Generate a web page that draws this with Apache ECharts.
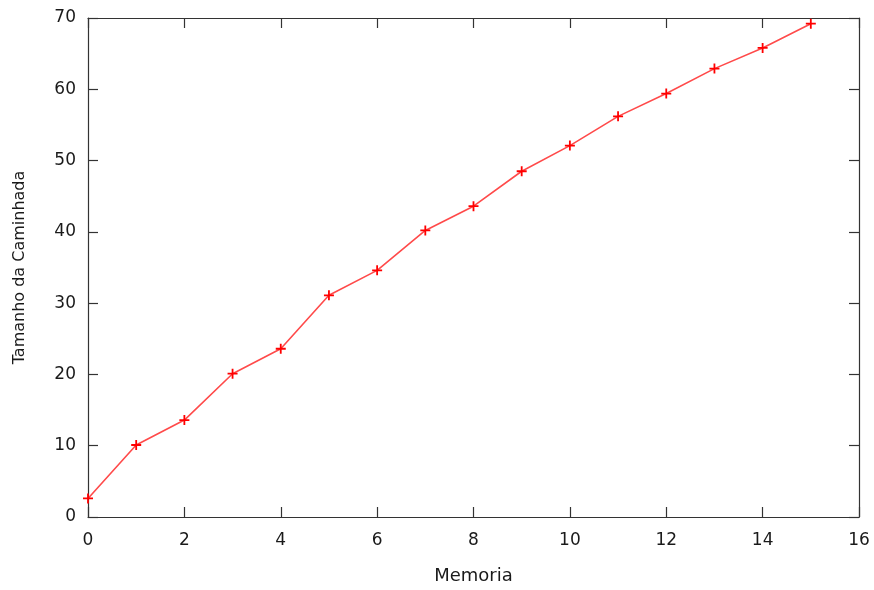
<!DOCTYPE html>
<html>
<head>
<meta charset="utf-8">
<script src="https://cdn.jsdelivr.net/npm/echarts@6/dist/echarts.min.js"></script>
<style>
  html, body { margin: 0; padding: 0; background: #fff; }
  #chart { width: 874px; height: 590px; }
</style>
</head>
<body>
<div id="chart"></div>
<script>
// Walk length as a function of memory size
const memoria = [0, 1, 2, 3, 4, 5, 6, 7, 8, 9, 10, 11, 12, 13, 14, 15];
const tamanho = [2.6, 10.1, 13.6, 20.1, 23.6, 31.1, 34.6, 40.2, 43.6, 48.5, 52.1, 56.2, 59.4, 62.9, 65.8, 69.2];
const xTicks = { min: 0, max: 16, interval: 2 };
const yTicks = { min: 0, max: 70, interval: 10 };

const font = 'DejaVu Sans';
const ink = '#1a1a1a';
const plus = 'path://M4.1,0H5.9V4.1H10V5.9H5.9V10H4.1V5.9H0V4.1H4.1Z';

// Frame on all four sides, ticks pointing into the plot
const frameLine = { show: true, onZero: false, lineStyle: { color: '#333', width: 1.2 } };
const inTicks = { show: true, inside: true, length: 10, lineStyle: { color: '#333', width: 1.2 } };

const chart = echarts.init(document.getElementById('chart'));
chart.setOption({
  animation: false,
  backgroundColor: '#fff',
  grid: { left: 88, right: 15, top: 18, bottom: 71, containLabel: false },
  xAxis: [
    {
      type: 'value', position: 'bottom',
      min: xTicks.min, max: xTicks.max, interval: xTicks.interval,
      name: 'Memoria', nameLocation: 'middle', nameGap: 50,
      nameTextStyle: { fontFamily: font, fontSize: 18, color: ink },
      axisLine: frameLine, axisTick: inTicks,
      axisLabel: { fontFamily: font, fontSize: 17, color: ink, margin: 15 },
      splitLine: { show: false }
    },
    {
      type: 'value', position: 'top',
      min: xTicks.min, max: xTicks.max, interval: xTicks.interval,
      axisLine: frameLine, axisTick: inTicks,
      axisLabel: { show: false }, splitLine: { show: false }
    }
  ],
  yAxis: [
    {
      type: 'value', position: 'left',
      min: yTicks.min, max: yTicks.max, interval: yTicks.interval,
      name: 'Tamanho da Caminhada', nameLocation: 'middle', nameGap: 60,
      nameTextStyle: { fontFamily: font, fontSize: 16, color: ink },
      axisLine: frameLine, axisTick: inTicks,
      axisLabel: { fontFamily: font, fontSize: 17, color: ink, margin: 12 },
      splitLine: { show: false }
    },
    {
      type: 'value', position: 'right',
      min: yTicks.min, max: yTicks.max, interval: yTicks.interval,
      axisLine: frameLine, axisTick: inTicks,
      axisLabel: { show: false }, splitLine: { show: false }
    }
  ],
  series: [{
    type: 'line',
    xAxisIndex: 0,
    yAxisIndex: 0,
    data: memoria.map((m, i) => [m, tamanho[i]]),
    lineStyle: { color: '#ff4a4a', width: 1.6 },
    itemStyle: { color: '#ff0000', borderWidth: 0 },
    symbol: plus,
    symbolSize: 10,
    showSymbol: true
  }]
});
</script>
</body>
</html>
